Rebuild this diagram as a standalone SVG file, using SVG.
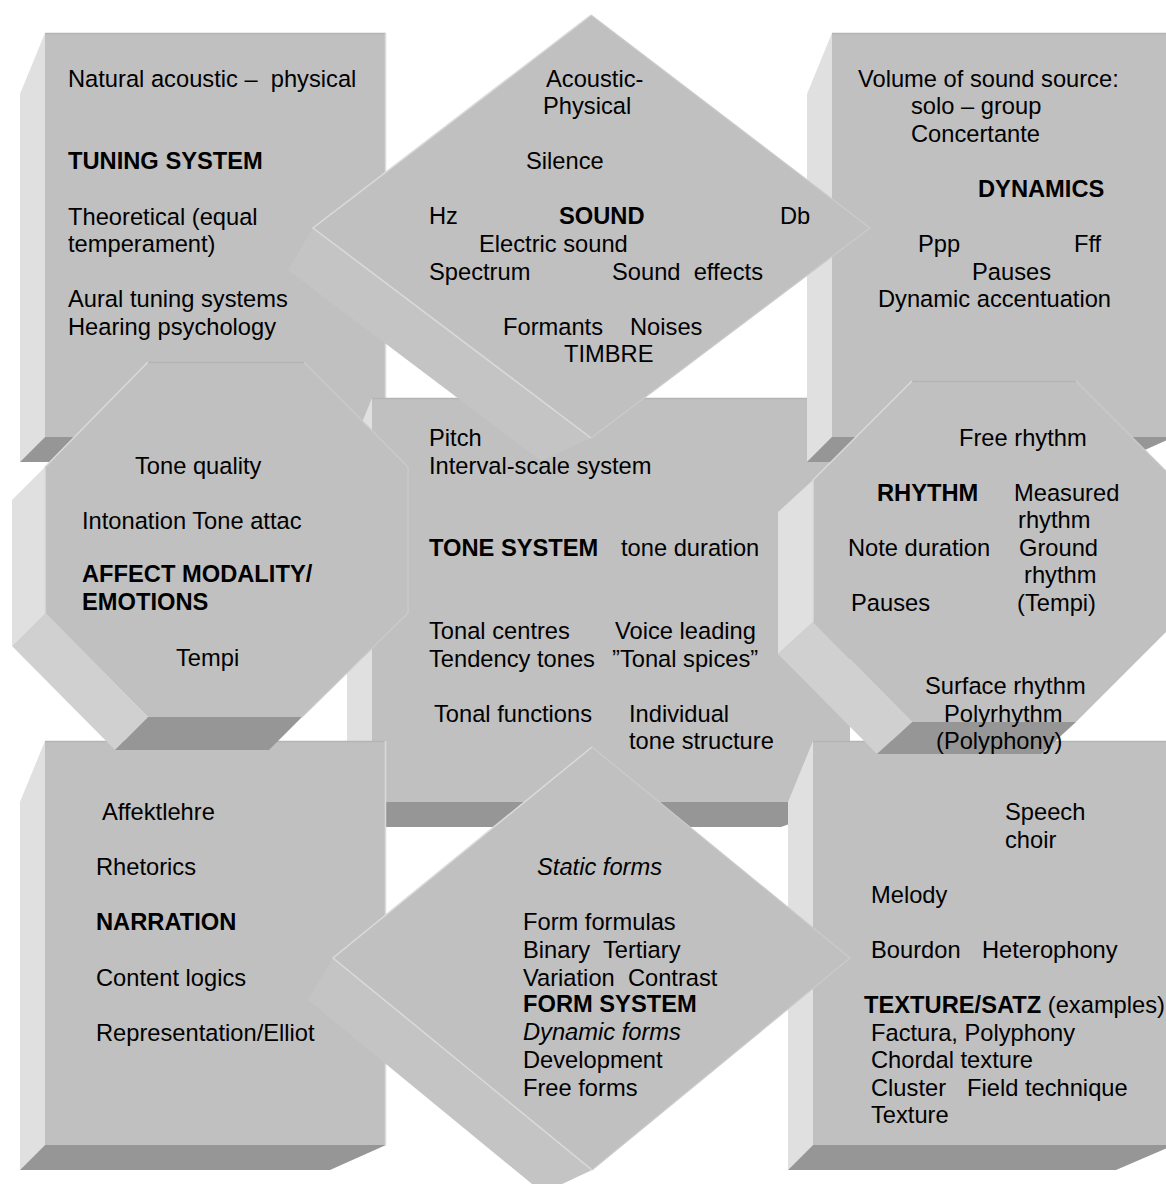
<svg xmlns="http://www.w3.org/2000/svg" width="1166" height="1184" viewBox="0 0 1166 1184" xml:space="preserve">
<style>
.face{fill:#c0c0c0}
.left{fill:#e0e0e0}
.bot{fill:#969696}
.diag{fill:#d0d0d0}
.dside{fill:#c4c4c4}
.hi{stroke:#dadada;stroke-width:1.5;fill:none}
.lo{stroke:#b4b4b4;stroke-width:1.5;fill:none}
.fa{stroke:#cbcbcb;stroke-width:1.2;fill:none}
text{font-family:"Liberation Sans",Arial,sans-serif;font-size:23.7px;fill:#000;white-space:pre}
.b{font-weight:bold}
.i{font-style:italic}
</style>
<rect width="1166" height="1184" fill="#ffffff"/>
<g id="connectors"></g>

<g id="tuning">
<polygon class="left" points="45,33 20,94 20,462 45,437"/>
<polygon class="bot" points="45,437 386,437 330,462 20,462"/>
<rect class="face" x="45" y="33" width="341" height="404"/>
<line class="lo" x1="45" y1="33.5" x2="386" y2="33.5"/>
<line class="hi" x1="385.5" y1="33" x2="385.5" y2="437"/>
<text x="68" y="87">Natural acoustic –  physical</text>
<text class="b" x="68" y="169">TUNING SYSTEM</text>
<text x="68" y="225">Theoretical (equal</text>
<text x="68" y="252">temperament)</text>
<text x="68" y="307">Aural tuning systems</text>
<text x="68" y="335">Hearing psychology</text>
</g>

<g id="tone">
<polygon class="left" points="372,398 347,459 347,827 372,802"/>
<polygon class="bot" points="372,802 850,802 781,827 347,827"/>
<rect class="face" x="372" y="398" width="478" height="404"/>
<line class="lo" x1="372" y1="398.5" x2="850" y2="398.5"/>
<text x="429" y="446">Pitch</text>
<text x="429" y="474">Interval-scale system</text>
<text class="b" x="429" y="556">TONE SYSTEM</text>
<text x="621" y="556">tone duration</text>
<text x="429" y="639">Tonal centres</text>
<text x="615" y="639">Voice leading</text>
<text x="429" y="667">Tendency tones</text>
<text x="612" y="667">”Tonal spices”</text>
<text x="434" y="722">Tonal functions</text>
<text x="629" y="722">Individual</text>
<text x="629" y="749">tone structure</text>
</g>

<g id="dynamics">
<polygon class="left" points="832,33 807,94 807,462 832,437"/>
<polygon class="bot" points="832,437 1174,437 1118,462 807,462"/>
<rect class="face" x="832" y="33" width="342" height="404"/>
<line class="lo" x1="832" y1="33.5" x2="1174" y2="33.5"/>
<text x="858" y="87">Volume of sound source:</text>
<text x="911" y="114">solo – group</text>
<text x="911" y="142">Concertante</text>
<text class="b" x="978" y="197">DYNAMICS</text>
<text x="918" y="252">Ppp</text>
<text x="1074" y="252">Fff</text>
<text x="972" y="280">Pauses</text>
<text x="878" y="307">Dynamic accentuation</text>
</g>

<g id="sound">
<polygon class="dside" points="313,228 591,438 541,461 288,270"/>
<polygon class="face" points="591,15 870,228 591,438 313,228"/>
<polyline class="hi" points="591,15 313,228 591,438"/>
<polyline class="fa" points="591,15 870,228 591,438"/>
<text x="546" y="87">Acoustic-</text>
<text x="543" y="114">Physical</text>
<text x="526" y="169">Silence</text>
<text x="429" y="224">Hz</text>
<text class="b" x="559" y="224">SOUND</text>
<text x="780" y="224">Db</text>
<text x="479" y="252">Electric sound</text>
<text x="429" y="280">Spectrum</text>
<text x="612" y="280">Sound  effects</text>
<text x="503" y="335">Formants</text>
<text x="630" y="335">Noises</text>
<text x="564" y="362">TIMBRE</text>
</g>

<g id="narration">
<polygon class="left" points="45,741 20,802 20,1170 45,1145"/>
<polygon class="bot" points="45,1145 386,1145 330,1170 20,1170"/>
<rect class="face" x="45" y="741" width="341" height="404"/>
<line class="lo" x1="45" y1="741.5" x2="386" y2="741.5"/>
<line class="hi" x1="385.5" y1="741" x2="385.5" y2="1145"/>
<text x="102" y="820">Affektlehre</text>
<text x="96" y="875">Rhetorics</text>
<text class="b" x="96" y="930">NARRATION</text>
<text x="96" y="986">Content logics</text>
<text x="96" y="1041">Representation/Elliot</text>
</g>

<g id="texture">
<polygon class="left" points="813,741 788,802 788,1170 813,1145"/>
<polygon class="bot" points="813,1145 1174,1145 1116,1170 788,1170"/>
<rect class="face" x="813" y="741" width="361" height="404"/>
<line class="lo" x1="813" y1="741.5" x2="1174" y2="741.5"/>
<text x="1005" y="820">Speech</text>
<text x="1005" y="848">choir</text>
<text x="871" y="903">Melody</text>
<text x="871" y="958">Bourdon</text>
<text x="982" y="958">Heterophony</text>
<text x="864" y="1013"><tspan class="b">TEXTURE/SATZ</tspan> (examples)</text>
<text x="871" y="1041">Factura, Polyphony</text>
<text x="871" y="1068">Chordal texture</text>
<text x="871" y="1096">Cluster</text>
<text x="967" y="1096">Field technique</text>
<text x="871" y="1123">Texture</text>
</g>

<g id="affect">
<polygon class="left" points="45,467 12,500 12,646 45,613"/>
<polygon class="diag" points="45,613 12,646 115,750 148,717"/>
<polygon class="bot" points="148,717 302,717 269,750 115,750"/>
<polygon class="face" points="148,362 304,362 408,467 408,613 302,717 148,717 45,613 45,467"/>
<line class="lo" x1="148" y1="362.5" x2="304" y2="362.5"/>
<polyline class="hi" points="45,613 45,467 148,362"/>
<polyline class="fa" points="304,362 408,467 408,613 302,717"/>
<text x="135" y="474">Tone quality</text>
<text x="82" y="529">Intonation Tone attac</text>
<text class="b" x="82" y="582">AFFECT MODALITY/</text>
<text class="b" x="82" y="610">EMOTIONS</text>
<text x="176" y="666">Tempi</text>
</g>

<g id="rhythm">
<polygon class="left" points="813,480 778,512 778,654 813,622"/>
<polygon class="diag" points="813,622 778,654 877,754 912,722"/>
<polygon class="bot" points="912,722 1076,722 1041,754 877,754"/>
<polygon class="face" points="912,381 1076,381 1176,481 1176,622 1076,722 912,722 813,622 813,480"/>
<line class="lo" x1="912" y1="381.5" x2="1076" y2="381.5"/>
<polyline class="hi" points="813,622 813,480 912,381"/>
<polyline class="fa" points="1076,381 1176,481"/>
<text x="959" y="446">Free rhythm</text>
<text class="b" x="877" y="501">RHYTHM</text>
<text x="1014" y="501">Measured</text>
<text x="1018" y="528">rhythm</text>
<text x="848" y="556">Note duration</text>
<text x="1019" y="556">Ground</text>
<text x="1024" y="583">rhythm</text>
<text x="851" y="611">Pauses</text>
<text x="1017" y="611">(Tempi)</text>
<text x="925" y="694">Surface rhythm</text>
<text x="944" y="722">Polyrhythm</text>
<text x="936" y="749">(Polyphony)</text>
</g>

<g id="form">
<polygon class="dside" points="333,958 592,1170 543,1193 308,1000"/>
<polygon class="face" points="592,747 850,958 592,1170 333,958"/>
<polyline class="hi" points="592,747 333,958 592,1170"/>
<polyline class="fa" points="592,747 850,958 592,1170"/>
<text class="i" x="537" y="875">Static forms</text>
<text x="523" y="930">Form formulas</text>
<text x="523" y="958">Binary  Tertiary</text>
<text x="523" y="986">Variation  Contrast</text>
<text class="b" x="523" y="1012">FORM SYSTEM</text>
<text class="i" x="523" y="1040">Dynamic forms</text>
<text x="523" y="1068">Development</text>
<text x="523" y="1096">Free forms</text>
</g>
</svg>
